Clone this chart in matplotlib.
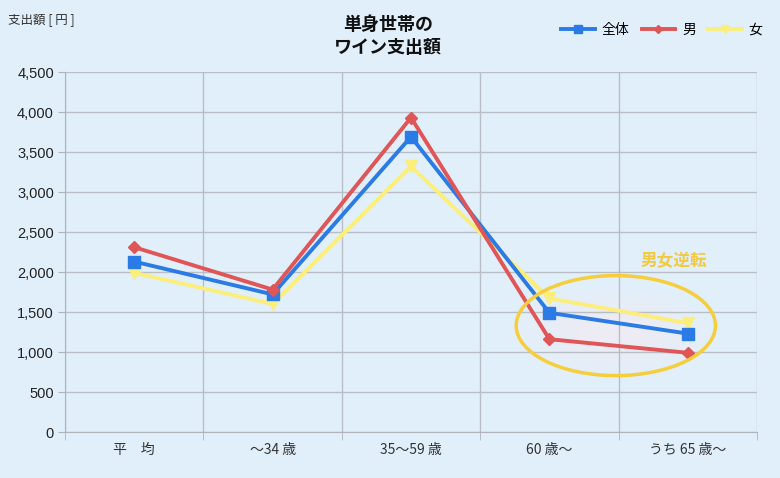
import matplotlib
matplotlib.use("Agg")
import matplotlib.pyplot as plt
from matplotlib.patches import Ellipse
import numpy as np

plt.rcParams['font.family'] = ['Noto Sans CJK JP', 'DejaVu Sans']

# data
categories = ['平　均', '～34 歳', '35～59 歳', '60 歳～', 'うち 65 歳～']
total = [2130, 1720, 3690, 1490, 1230]
male = [2310, 1780, 3930, 1160, 990]
female = [1990, 1600, 3320, 1670, 1360]

bg = '#e1effb'
fig = plt.figure(figsize=(7.8, 4.78), dpi=100, facecolor=bg)
ax = fig.add_axes([65/780, 1 - 432/478, 692/780, 360/478], facecolor=bg)

x = np.arange(len(categories))
ax.set_xlim(-0.5, len(categories) - 0.5)
ax.set_ylim(0, 4500)

# soft pink glow inside the annotation ellipse
for w, h, a in [(1.4, 1100, 0.12), (1.1, 850, 0.14), (0.8, 620, 0.16), (0.5, 420, 0.18)]:
    ax.add_patch(Ellipse((3.45, 1250), w, h, facecolor='#fde9f0', edgecolor='none', alpha=a, zorder=1))

ax.plot(x, total, color='#2b7be6', lw=2.8, marker='s', ms=8, label='全体', zorder=4)
ax.plot(x, male, color='#e05555', lw=2.8, marker='D', ms=6, label='男', zorder=5)
ax.plot(x, female, color='#fbee7a', lw=2.8, marker='v', ms=8, label='女', zorder=3)

ax.add_patch(Ellipse((3.48, 1330), 1.44, 1250, facecolor='none', edgecolor='#f6cd3a', lw=2.5, zorder=6))
ax.text(3.9, 2140, '男女逆転', color='#f3c93e', fontsize=12, fontweight='bold', ha='center', va='center', zorder=6)

ax.set_yticks(np.arange(0, 4501, 500))
ax.set_yticklabels([f'{v:,}' for v in range(0, 4501, 500)],
                   family=['Liberation Sans', 'DejaVu Sans'], fontsize=10.5, color='#222222')
ax.set_xticks(x)
ax.set_xticklabels(categories, fontsize=10, color='#333333')
ax.set_xticks(np.arange(-0.5, len(categories)), minor=True)
ax.tick_params(axis='x', which='major', length=0, pad=8)
ax.tick_params(axis='x', which='minor', length=6, color='#b0b4ba')
ax.tick_params(axis='y', length=5, color='#b0b4ba', pad=3)
ax.grid(axis='y', color='#b9bec6', lw=1)
ax.grid(axis='x', which='minor', color='#b9bec6', lw=1)
for s in ['top', 'right']:
    ax.spines[s].set_visible(False)
for s in ['left', 'bottom']:
    ax.spines[s].set_color('#b0b4ba')

fig.text(8/780, 1 - 20/478, '支出額 [ 円 ]', fontsize=9, color='#333333', va='center')
fig.text(388/780, 1 - 36/478, '単身世帯の\nワイン支出額', fontsize=13, fontweight='bold',
         ha='center', va='center', linespacing=1.25, color='#111111')

leg = fig.legend(loc='center right', bbox_to_anchor=(775/780, 1 - 30/478), ncol=3, frameon=False,
                 fontsize=10, handlelength=2.4, columnspacing=0.9, handletextpad=0.5, markerscale=0.7)

fig.savefig('out.png', dpi=100, facecolor=bg)
